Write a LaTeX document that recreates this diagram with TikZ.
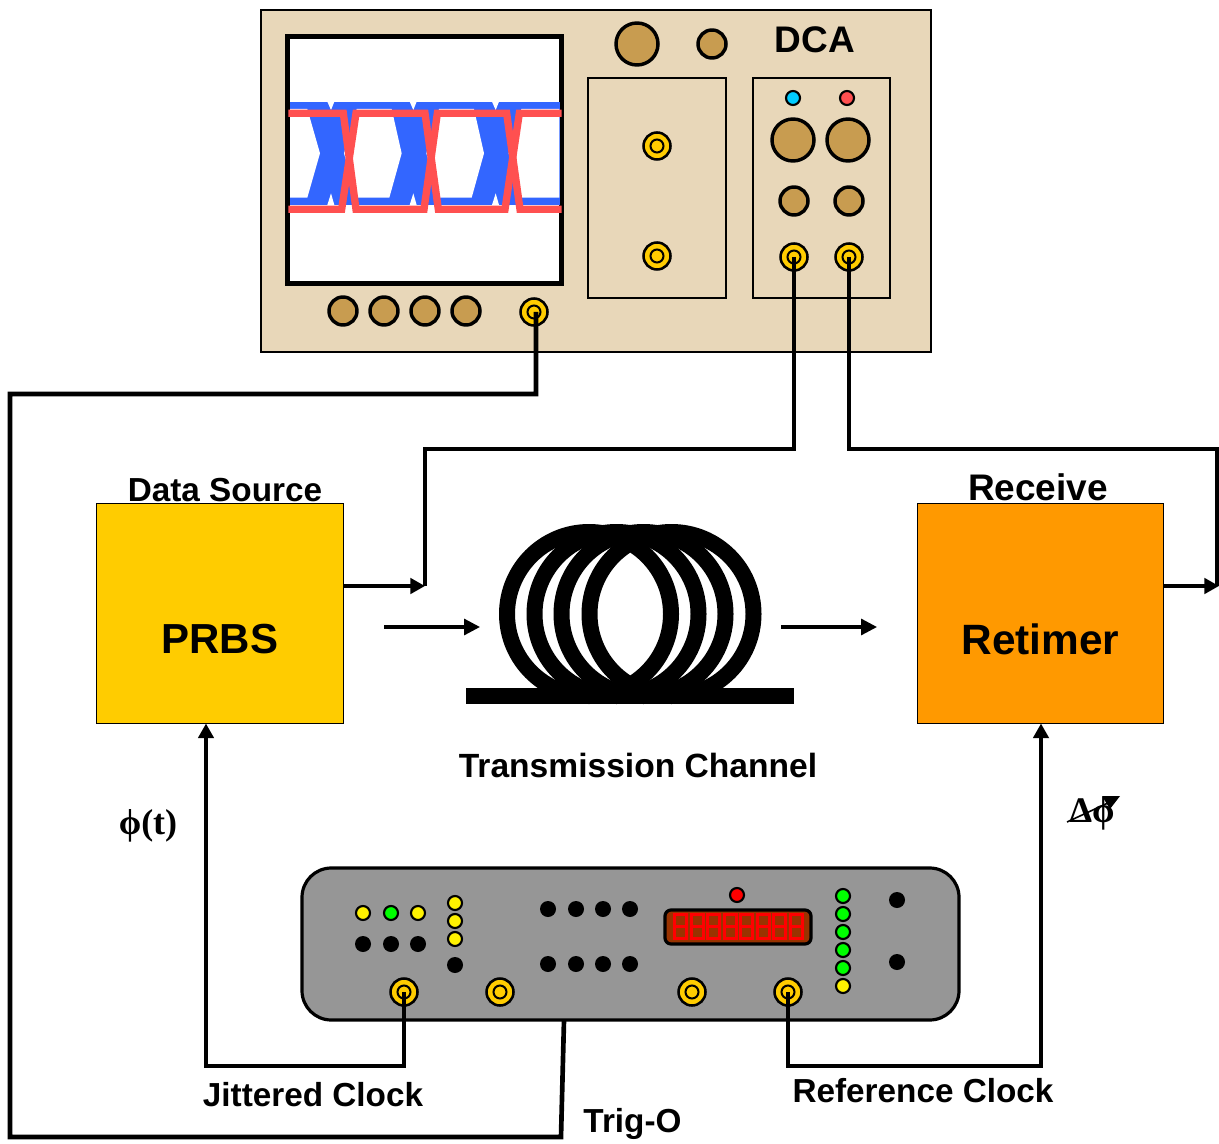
\documentclass[tikz,border=0pt]{standalone}
\usepackage{fontspec}
\setmainfont{Liberation Sans}
\newfontfamily\serifsym{Liberation Serif}
\usetikzlibrary{arrows.meta}
\definecolor{panel}{HTML}{E8D7B9}
\definecolor{knob}{HTML}{C89C50}
\definecolor{gold}{HTML}{FFCC00}
\definecolor{orangebox}{HTML}{FF9900}
\definecolor{graybox}{HTML}{969696}
\definecolor{eyeblue}{HTML}{3366FF}
\definecolor{eyered}{HTML}{FF5050}
\definecolor{dispbg}{HTML}{993300}
\definecolor{ledblue}{HTML}{00CCFF}
\newcommand{\pxfont}[1]{\pgfmathsetlengthmacro{\fsz}{#1*0.75}\fontsize{\fsz}{\fsz}\selectfont\bfseries}
\tikzset{
  dot/.style={circle,draw=black,line width=2.6pt,inner sep=0pt,outer sep=0pt,minimum size=#1*0.75pt},
  bigknob/.style={dot=42,fill=knob},
  smallknob/.style={dot=28,fill=knob},
  portouter/.style={dot=27,fill=gold,line width=1.9pt},
  portinner/.style={dot=13,fill=gold,line width=1.5pt},
  led/.style={dot=14,line width=1.6pt,fill=#1},
  blackdot/.style={circle,fill=black,draw=none,inner sep=0pt,outer sep=0pt,minimum size=12pt},
  wire/.style={line width=3.5pt,draw=black,line cap=butt,line join=miter},
  arrowwire/.style={wire,-{Triangle[length=11pt,width=11.5pt]}},
  thinarrow/.style={line width=2.4pt,draw=black,-{Triangle[length=12pt,width=12pt]}},
  label/.style={inner sep=0pt,outer sep=0pt,text=black},
  blockbox/.style={draw=black,line width=0.9pt,inner sep=0pt,outer sep=0pt,minimum width=185pt,minimum height=164.5pt},
  subpanel/.style={draw=black,line width=2.1pt,fill=panel},
  coilring/.style={draw=black,line width=12pt},
}
\newcommand{\port}[2]{\node[portouter] (#1) at (#2) {};\node[portinner] (#1i) at (#2) {};}
\begin{document}
\begin{tikzpicture}[x=0.75pt,y=-0.75pt]
\useasboundingbox (0,0) rectangle (1219,1144);
\fill[white] (0,0) rectangle (1219,1144);
% DCA
\draw[fill=panel,draw=black,line width=1.1pt] (261,10) rectangle (931,352);
\draw[fill=white,draw=black,line width=3.75pt] (287.5,36.5) rectangle (561.5,283.5);
\begin{scope}[shift={(270,20)},x=0.25pt,y=-0.25pt]
  \fill[eyeblue] (60,245) rectangle (870,555);
  \fill[white] (60,267) -- (112,267) -- (150,400) -- (112,533) -- (60,533) -- cycle;
  \foreach \d in {0,247,494}{
    \fill[white] (\d+172,245) -- (\d+193,245) -- (\d+183,270) -- cycle;
    \fill[white] (\d+172,555) -- (\d+193,555) -- (\d+183,520) -- cycle;
  }
  \foreach \d in {0,247}{
    \fill[white] (\d+222,400) -- (\d+260,267) -- (\d+365,267) -- (\d+395,400) -- (\d+358,533) -- (\d+260,533) -- cycle;
  }
  \fill[white] (716,400) -- (754,267) -- (868,267) -- (868,533) -- (754,533) -- cycle;
  \draw[eyered,line width=5.5pt,line join=miter]
    (55,280) -- (220,280) -- (258,568) -- (462,568) -- (502,280) -- (710,280) -- (750,568) -- (875,568);
  \draw[eyered,line width=5.5pt,line join=miter]
    (55,568) -- (215,568) -- (258,280) -- (465,280) -- (505,568) -- (705,568) -- (748,280) -- (875,280);
\end{scope}
\node[bigknob] (k1) at (637,44) {};
\node[smallknob] (k2) at (712,44) {};
\node[label,font=\pxfont{37}] (dca) at (815,40) {DCA};
\draw[subpanel] (588,78) rectangle (726,298);
\draw[subpanel] (753,78) rectangle (890,298);
\port{mid1}{657,146}
\port{mid2}{657,256}
\node[led=ledblue] (bl) at (793,98) {};
\node[led=eyered] (rd) at (847,98) {};
\node[bigknob] (k3) at (793,140) {};
\node[bigknob] (k4) at (848,140) {};
\node[smallknob] (k5) at (794,201) {};
\node[smallknob] (k6) at (849,201) {};
\port{ch1}{794,257}
\port{ch2}{849,257}
\foreach \x [count=\i] in {343,384,425,466}{\node[smallknob] (b\i) at (\x,311) {};}
\port{trig}{534,312}
% Blocks
\node[blockbox,fill=gold] (prbs) at (220,613.5) {};
\node[blockbox,fill=orangebox] (ret) at (1040.5,613.5) {};
\node[label,font=\pxfont{42}] at (220,639.5) {PRBS};
\node[label,font=\pxfont{42.4}] at (1040.5,639) {Retimer};
\node[label,font=\pxfont{33.3}] (dsl) at (225,490.5) {Data Source};
\node[label,font=\pxfont{37}] (rcl) at (1038,487) {Receive};
% Coil
\foreach \x in {589,616.5,643.5,671.5}{\draw[coilring] (\x,614) circle (82);}
\fill[black] (466,688) rectangle (794,704);
\node[label,font=\pxfont{33.6}] (tc) at (638,765.5) {Transmission Channel};
\coordinate (a1s) at (384,627); \coordinate (a1e) at (480,627);
\coordinate (a2s) at (781,627); \coordinate (a2e) at (877,627);
\draw[thinarrow] (a1s) -- (a1e);
\draw[thinarrow] (a2s) -- (a2e);
% Clock box
\draw[fill=graybox,draw=black,line width=2.4pt,rounded corners=22pt] (302,868) rectangle (959,1020);
\node[led=yellow] (y1) at (363,913) {};
\node[led=green] (g1) at (391,913) {};
\node[led=yellow] (y2) at (418,913) {};
\foreach \x [count=\i] in {363,391,418}{\node[blackdot] (c\i) at (\x,944) {};}
\foreach \y [count=\i] in {903,921,939}{\node[led=yellow] (yy\i) at (455,\y) {};}
\node[blackdot] (c4) at (455,965) {};
\foreach \x [count=\i] in {548,576,603,630}{
  \node[blackdot] (d\i) at (\x,909) {};
  \node[blackdot] (e\i) at (\x,964) {};
}
\draw[fill=dispbg,draw=black,line width=2.4pt,rounded corners=4.5pt] (665,910) rectangle (811,944);
\foreach \i in {0,...,7}{
  \draw[red,line width=2.2pt] (674.8+\i*16.5,914.2) rectangle (686.8+\i*16.5,938.5);
  \draw[red,line width=2.2pt] (674.8+\i*16.5,926.4) -- (686.8+\i*16.5,926.4);
}
\node[led=red] (rl) at (737,895) {};
\foreach \y [count=\i] in {896,914,932,950,968}{\node[led=green] (gg\i) at (843,\y) {};}
\node[led=yellow] (gy) at (843,986) {};
\node[blackdot] (f1) at (897,900) {};
\node[blackdot] (f2) at (897,962) {};
\port{jc}{404,992}
\port{c2}{500,992}
\port{c3}{692,992}
\port{rc}{788,992}
\coordinate (trigout) at (564,1020);
% Wires
\coordinate (t0) at (536,312); \coordinate (t1) at (536,394); \coordinate (t2) at (10,394); \coordinate (t3) at (10,1137); \coordinate (t4) at (561,1137);
\draw[wire] (t0) -- (t1) -- (t2) -- (t3) -- (t4) -- (trigout);
\coordinate (w1) at (794,449); \coordinate (w2) at (425,449); \coordinate (w3) at (425,586);
\draw[wire] (ch1.center) -- (w1) -- (w2) -- (w3);
\coordinate (po) at (343,586);
\draw[arrowwire] (po) -- (w3);
\coordinate (v1) at (849,449); \coordinate (v2) at (1217,449); \coordinate (v3) at (1217,586);
\draw[wire] (ch2.center) -- (v1) -- (v2) -- (v3);
\coordinate (ro) at (1164,586); \coordinate (rt) at (1219,586);
\draw[arrowwire] (ro) -- (rt);
\coordinate (j1) at (404,1066); \coordinate (j2) at (206,1066); \coordinate (pb) at (206,723.5);
\draw[arrowwire] (jc.center) -- (j1) -- (j2) -- (pb);
\coordinate (r1) at (788,1066); \coordinate (r2) at (1041,1066); \coordinate (rb) at (1041,723.5);
\draw[arrowwire] (rc.center) -- (r1) -- (r2) -- (rb);
% Labels
\node[label,font=\pxfont{33.3}] at (313,1095) {Jittered Clock};
\node[label,font=\pxfont{33.3}] at (923,1091) {Reference Clock};
\node[label,font=\pxfont{33.3}] at (632.5,1124) {Trig-O};
\node[label,font=\pxfont{36}\serifsym] at (148,826) {ϕ(t)};
\node[label,font=\pxfont{36}\serifsym] (dphi) at (1092,814) {Δϕ};
\fill[black] (1102,796) -- (1120,796) -- (1110,809) -- cycle;
\draw[black,line width=1.2pt] (1067,822) -- (1110,802);
\end{tikzpicture}
\end{document}
